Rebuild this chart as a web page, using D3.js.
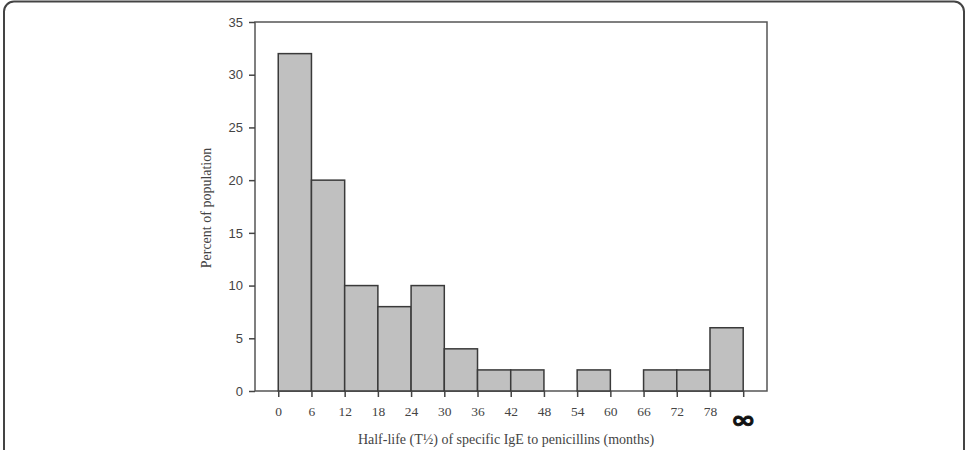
<!DOCTYPE html>
<html>
<head>
<meta charset="utf-8">
<script src="https://cdn.jsdelivr.net/npm/d3@7"></script>
<style>
  body { margin: 0; background: #fff; }
  svg { display: block; font-family: "Liberation Serif", "DejaVu Serif", serif; }
</style>
</head>
<body>
<svg width="965" height="450"></svg>
<script>
// bins of 6 months; last bin is 78 -> infinity
var binStarts = [0, 6, 12, 18, 24, 30, 36, 42, 48, 54, 60, 66, 72, 78];
var percents = [32, 20, 10, 8, 10, 4, 2, 2, 0, 2, 0, 2, 2, 6];
var xTicks = [0, 6, 12, 18, 24, 30, 36, 42, 48, 54, 60, 66, 72, 78];
var yTicks = [0, 5, 10, 15, 20, 25, 30, 35];
var binWidth = 6;
var infPos = 84;

var svg = d3.select("svg");

// outer rounded frame
svg.append("rect")
    .attr("x", 4).attr("y", 1.5)
    .attr("width", 960).attr("height", 470)
    .attr("rx", 10)
    .attr("fill", "none")
    .attr("stroke", "#444")
    .attr("stroke-width", 2);

var plotL = 255, plotR = 767, plotT = 22, plotB = 391;

var x = d3.scaleLinear().domain([-4.2, 88.3]).range([plotL, plotR]);
var y = d3.scaleLinear().domain([0, 35]).range([plotB, plotT]);

// plot box
svg.append("rect")
    .attr("x", plotL).attr("y", plotT)
    .attr("width", plotR - plotL).attr("height", plotB - plotT)
    .attr("fill", "none")
    .attr("stroke", "#555")
    .attr("stroke-width", 1.5);

// bars
svg.append("g").selectAll("rect")
    .data(binStarts.map((s, i) => ({start: s, v: percents[i]})).filter(d => d.v > 0))
    .enter().append("rect")
    .attr("x", d => x(d.start))
    .attr("y", d => y(d.v))
    .attr("width", d => x(d.start + binWidth) - x(d.start))
    .attr("height", d => y(0) - y(d.v))
    .attr("fill", "#c0c0c0")
    .attr("stroke", "#3a3a3a")
    .attr("stroke-width", 1.5);

// y axis
var yAxis = svg.append("g")
    .attr("transform", "translate(" + plotL + ",0)")
    .call(d3.axisLeft(y).tickValues(yTicks).tickSize(6).tickPadding(6));
yAxis.select(".domain").remove();
yAxis.selectAll("line").attr("stroke", "#444").attr("stroke-width", 1.5);
yAxis.selectAll("text").attr("font-size", 13).attr("fill", "#444")
    .attr("font-family", "Liberation Sans");

// x axis
var xAxis = svg.append("g")
    .attr("transform", "translate(0," + plotB + ")")
    .call(d3.axisBottom(x).tickValues(xTicks.concat([infPos])).tickSize(6).tickPadding(9)
      .tickFormat(d => d === infPos ? "" : d));
xAxis.select(".domain").remove();
xAxis.selectAll("line").attr("stroke", "#444").attr("stroke-width", 1.5);
xAxis.selectAll("text").attr("font-size", 13.5).attr("fill", "#444")
    .attr("font-family", "Liberation Serif");

// infinity label
svg.append("text")
    .attr("transform", "translate(" + x(infPos) + ",428) scale(1.25,1)")
    .attr("text-anchor", "middle")
    .attr("font-size", 24)
    .attr("font-weight", "bold")
    .attr("font-family", "DejaVu Sans")
    .attr("fill", "#111")
    .attr("stroke", "#111")
    .attr("stroke-width", 0.8)
    .text("\u221E");

// axis titles
svg.append("text")
    .attr("x", 506)
    .attr("y", 444)
    .attr("text-anchor", "middle")
    .attr("font-size", 14)
    .attr("fill", "#444")
    .text("Half-life (T\u00BD) of specific IgE to penicillins (months)");

svg.append("text")
    .attr("transform", "translate(211,208) rotate(-90)")
    .attr("text-anchor", "middle")
    .attr("font-size", 14)
    .attr("fill", "#444")
    .text("Percent of population");
</script>
</body>
</html>
